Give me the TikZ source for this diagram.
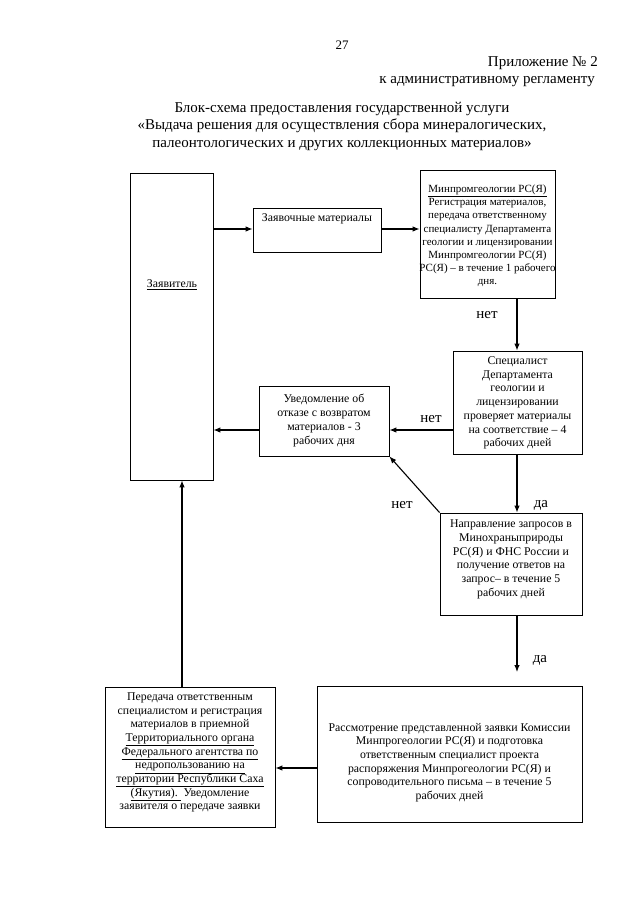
\documentclass[tikz,border=0pt]{standalone}
\usepackage{fontspec}
\setmainfont{Liberation Serif}
\usetikzlibrary{arrows.meta,calc}
\tikzset{
  box/.style={draw, line width=0.8pt, rectangle, inner sep=0pt},
  txt/.style={align=center, inner sep=0pt, font=\fontsize{11.8}{13.7}\selectfont},
  smalltxt/.style={align=center, inner sep=0pt, font=\fontsize{11.0}{13.2}\selectfont},
  lbl/.style={inner sep=0pt, font=\fontsize{15}{17}\selectfont},
  arr/.style={line width=1.1pt, -{Latex[length=7pt,width=5.5pt]}},
}
\begin{document}
\begin{tikzpicture}[x=1pt,y=-1pt]
\useasboundingbox (0,0) rectangle (640,904);
% header
\node[inner sep=0pt, font=\fontsize{13}{15}\selectfont] (pg) at (342,45) {27};
\node[inner sep=0pt, anchor=base east, font=\fontsize{15}{17}\selectfont] (app1) at (598,67) {Приложение № 2};
\node[inner sep=0pt, anchor=base east, font=\fontsize{15}{17}\selectfont] (app2) at (595,84) {к административному регламенту};
\node[align=center, inner sep=0pt, font=\fontsize{15}{17.5}\selectfont] (title) at (342,126)
 {Блок-схема предоставления государственной услуги\\
  «Выдача решения для осуществления сбора минералогических,\\
  палеонтологических и других коллекционных материалов»};
% boxes
\node[box, minimum width=83pt, minimum height=307pt] (zayav) at (171.5,326.5) {};
\node[box, minimum width=128pt, minimum height=44pt] (zmat) at (317,230) {};
\node[box, minimum width=135pt, minimum height=128pt] (reg) at (487.5,234) {};
\node[box, minimum width=129pt, minimum height=103pt] (spec) at (517.5,402.5) {};
\node[box, minimum width=130pt, minimum height=70pt] (uved) at (324,421) {};
\node[box, minimum width=142pt, minimum height=102pt] (napr) at (511,564) {};
\node[box, minimum width=265pt, minimum height=136pt] (rassm) at (449.5,754) {};
\node[box, minimum width=170pt, minimum height=140pt] (pered) at (190,757) {};
% texts
\node[txt] (zayavt) at (172,285) {\underline{Заявитель}};
\node[txt] (zmatt) at (317,219) {Заявочные материалы};
\node[smalltxt] (regt) at (487.5,236) {\underline{Минпромгеологии РС(Я)}\\Регистрация материалов,\\передача ответственному\\специалисту Департамента\\геологии и лицензировании\\Минпромгеологии РС(Я)\\РС(Я) – в течение 1 рабочего\\дня.};
\node[txt] (spect) at (517.5,403) {Специалист\\Департамента\\геологии и\\лицензировании\\проверяет материалы\\на соответствие – 4\\рабочих дней};
\node[txt] (uvedt) at (324,420.5) {Уведомление об\\отказе с возвратом\\материалов - 3\\рабочих дня};
\node[txt] (naprt) at (511,559.5) {Направление запросов в\\Минохраныприроды\\РС(Я) и ФНС России и\\получение ответов на\\запрос– в течение 5\\рабочих дней};
\node[txt] (rassmt) at (449.5,762.5) {Рассмотрение представленной заявки Комиссии\\Минпрогеологии РС(Я) и подготовка\\ответственным специалист проекта\\распоряжения Минпрогеологии РС(Я) и\\сопроводительного письма – в течение 5\\рабочих дней};
\node[txt] (peredt) at (190,752.5) {Передача ответственным\\специалистом и регистрация\\материалов в приемной\\\underline{Территориального органа}\\\underline{Федерального агентства по}\\\underline{недропользованию на}\\\underline{территории Республики Саха}\\\underline{(Якутия).\ }\ Уведомление\\заявителя о передаче заявки};
% helper coordinates
\coordinate (r1) at (0,229);
\coordinate (r2) at (0,430);
\coordinate (r3) at (0,768);
\coordinate (c1) at (517,0);
\coordinate (c2) at (182,0);
\coordinate (e8) at (517,672);
% connectors
\draw[arr] (zayav.east |- r1) -- (zmat.west |- r1);
\draw[arr] (zmat.east |- r1) -- (reg.west |- r1);
\draw[arr] (reg.south -| c1) -- (spec.north -| c1);
\draw[arr] (spec.west |- r2) -- (uved.east |- r2);
\draw[arr] (uved.west |- r2) -- (zayav.east |- r2);
\draw[arr] (spec.south -| c1) -- (napr.north -| c1);
\draw[arr] (napr.north west) -- (uved.south east);
\draw[arr] (napr.south -| c1) -- (e8);
\draw[arr] (rassm.west |- r3) -- (pered.east |- r3);
\draw[arr] (pered.north -| c2) -- (zayav.south -| c2);
% labels
\node[lbl] (l1) at (487,315) {нет};
\node[lbl] (l2) at (431,419) {нет};
\node[lbl] (l3) at (541,505) {да};
\node[lbl] (l4) at (402,505) {нет};
\node[lbl] (l5) at (540,660) {да};
\end{tikzpicture}
\end{document}
